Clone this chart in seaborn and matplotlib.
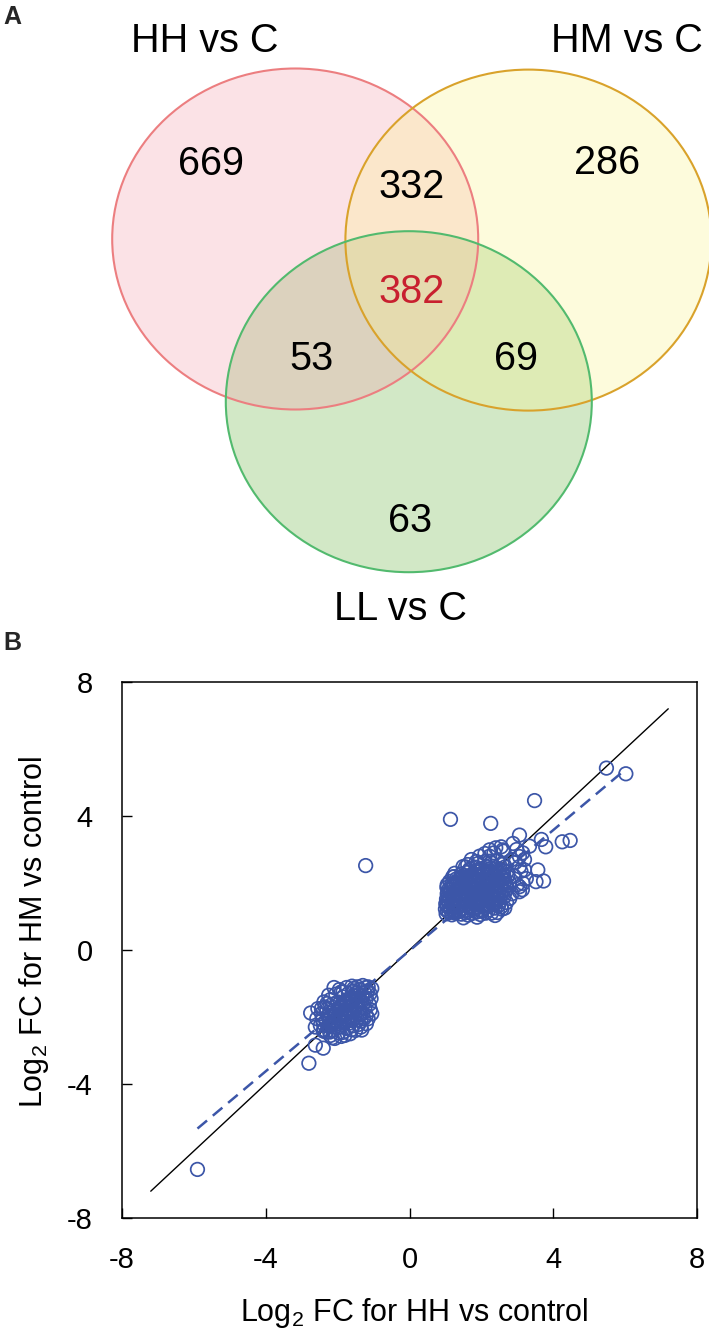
import numpy as np
import pandas as pd
import matplotlib
matplotlib.use("Agg")
import matplotlib.pyplot as plt
import seaborn as sns
from matplotlib.patches import Ellipse

# ---------------- Venn data (panel A) ----------------
set_names = ["HH vs C", "HM vs C", "LL vs C"]
region_names = ["HH only", "HM only", "HH&HM", "HH&HM&LL", "HH&LL", "HM&LL", "LL only"]
region_counts = [669, 286, 332, 382, 53, 69, 63]

# ---------------- Scatter data (panel B) ----------------
# up-regulated genes: log2 FC for HH vs control / HM vs control
hh_up = [1.02, 1.10, 1.18, 1.27, 1.35, 1.44, 1.55, 1.63, 1.74, 1.86, 1.97, 2.12, 2.28,
         1.00, 1.06, 1.15, 1.22, 1.31, 1.40, 1.49, 1.58, 1.66, 1.77, 1.88, 1.99, 2.09, 2.21, 2.38, 2.55,
         1.01, 1.08, 1.16, 1.25, 1.33, 1.42, 1.52, 1.61, 1.70, 1.81, 1.92, 2.03, 2.14, 2.27, 2.41,
         1.03, 1.11, 1.19, 1.28, 1.37, 1.46, 1.55, 1.65, 1.74, 1.84, 1.95, 2.06, 2.18, 2.31, 2.45, 2.62,
         1.05, 1.14, 1.23, 1.32, 1.42, 1.51, 1.60, 1.70, 1.80, 1.91, 2.01, 2.12, 2.24, 2.36, 2.49, 2.66,
         1.10, 1.20, 1.30, 1.39, 1.48, 1.58, 1.68, 1.78, 1.88, 1.98, 2.09, 2.20, 2.32, 2.44, 2.58, 2.72,
         1.05, 1.12, 1.18, 1.29, 1.40, 1.50, 1.61, 1.71, 1.82, 1.93, 2.04, 2.15, 2.27, 2.39, 2.51, 2.63, 2.78,
         1.20, 1.30, 1.42, 1.55, 1.67, 1.79, 1.90, 2.01, 2.12, 2.24, 2.36, 2.48, 2.60, 2.73,
         1.26, 1.45, 1.60, 1.74, 1.87, 1.99, 2.11, 2.23, 2.35, 2.47, 2.59, 2.71,
         1.49, 1.68, 1.85, 2.00, 2.14, 2.27, 2.40, 2.53, 2.66,
         1.62, 1.86, 1.90, 2.10, 2.28, 2.45, 2.62,
         1.06, 1.23, 1.40, 1.60, 1.80, 2.02, 2.20,
         1.04, 1.20, 1.37, 1.54, 1.72, 1.93, 2.15, 2.33, 2.48,
         1.06, 1.22, 1.39, 1.57, 1.77, 1.98, 2.21, 2.36, 2.52,
         1.08, 1.26, 1.44, 1.62, 1.82, 2.03, 2.27, 2.55,
         1.12, 1.34, 1.54, 1.75, 1.95, 2.17, 2.40, 2.62,
         1.24, 1.45, 1.66, 1.87, 2.08, 2.30, 2.53, 2.70,
         1.35, 1.58, 1.80, 2.02, 2.22, 2.44, 2.66,
         1.50, 1.72, 1.94, 2.17, 2.40, 2.62,
         1.65, 1.90, 2.16, 2.42, 2.62,
         1.14, 2.26, 3.48, 5.48, 6.02, 3.06, 3.67, 3.79, 4.25, 4.47,
         3.57, 3.52, 3.73, 2.88, 3.34, 3.06, 3.06, 3.06, 3.06, 3.25,
         2.23, 2.55, 2.60, 2.79, 3.16, 3.20, 3.14, 2.57, 2.38, 1.88,
         1.50, 2.95, 3.15, 2.98, 3.20, 2.85, 3.10, 2.92, 3.00, 2.85,
         2.70, 2.45, 2.65, 1.72, 1.95, 2.10, 2.35, 2.40, 2.23, 2.23,
         2.63, 1.04, 1.24, 1.56]
hm_up = [1.08, 1.12, 1.05, 1.10, 1.14, 1.07, 1.11, 1.04, 1.09, 1.13, 1.06, 1.10, 1.10,
         1.22, 1.30, 1.19, 1.27, 1.21, 1.31, 1.24, 1.18, 1.28, 1.23, 1.30, 1.20, 1.26, 1.32, 1.25, 1.29,
         1.38, 1.45, 1.36, 1.43, 1.40, 1.35, 1.46, 1.39, 1.44, 1.37, 1.42, 1.47, 1.38, 1.44, 1.40,
         1.52, 1.58, 1.50, 1.56, 1.61, 1.53, 1.59, 1.51, 1.57, 1.62, 1.54, 1.60, 1.55, 1.58, 1.52, 1.57,
         1.68, 1.72, 1.66, 1.74, 1.69, 1.75, 1.67, 1.73, 1.70, 1.66, 1.76, 1.71, 1.68, 1.74, 1.70, 1.72,
         1.83, 1.88, 1.81, 1.86, 1.90, 1.82, 1.87, 1.84, 1.91, 1.85, 1.80, 1.89, 1.86, 1.82, 1.88, 1.84,
         1.95, 2.05, 1.97, 2.02, 1.99, 2.05, 1.96, 2.03, 2.00, 1.95, 2.04, 1.98, 2.02, 1.97, 2.05, 1.99, 2.01,
         2.18, 2.12, 2.17, 2.11, 2.19, 2.14, 2.20, 2.10, 2.16, 2.13, 2.18, 2.12, 2.15, 2.19,
         2.29, 2.27, 2.31, 2.26, 2.33, 2.28, 2.34, 2.30, 2.25, 2.32, 2.29, 2.33,
         2.49, 2.42, 2.47, 2.41, 2.49, 2.44, 2.46, 2.40, 2.48,
         2.55, 2.64, 2.58, 2.64, 2.60, 2.67, 2.57,
         1.16, 1.15, 1.17, 1.14, 1.18, 1.16, 1.19,
         1.33, 1.34, 1.32, 1.35, 1.33, 1.34, 1.31, 1.35, 1.33,
         1.48, 1.49, 1.47, 1.48, 1.50, 1.49, 1.47, 1.50, 1.46,
         1.64, 1.63, 1.65, 1.62, 1.64, 1.66, 1.63, 1.64,
         1.78, 1.79, 1.77, 1.79, 1.78, 1.80, 1.77, 1.79,
         1.93, 1.92, 1.94, 1.92, 1.93, 1.94, 1.92, 1.93,
         2.07, 2.08, 2.06, 2.08, 2.07, 2.09, 2.06,
         2.22, 2.23, 2.21, 2.23, 2.22, 2.24,
         2.37, 2.38, 2.36, 2.38, 2.37,
         3.90, 3.78, 4.46, 5.43, 5.26, 3.43, 3.30, 3.08, 3.23, 3.27,
         2.39, 2.04, 2.06, 3.18, 3.10, 2.79, 2.49, 1.89, 1.74, 2.13,
         2.99, 3.08, 2.99, 1.54, 1.99, 2.39, 1.80, 1.22, 1.03, 0.98,
         0.96, 2.62, 2.90, 3.00, 2.70, 2.70, 2.35, 2.20, 1.95, 1.68,
         1.42, 1.12, 1.25, 2.70, 2.80, 2.88, 2.90, 3.05, 2.80, 2.65,
         2.95, 1.87, 2.19, 2.48]

# down-regulated genes
hh_down = [-1.05, -1.10, -1.07, -1.12, -1.09,
           -1.22, -1.25, -1.20, -1.28, -1.24, -1.30, -1.27,
           -1.38, -1.42, -1.36, -1.44, -1.40, -1.37, -1.45, -1.41,
           -1.55, -1.52, -1.58, -1.50, -1.56, -1.53, -1.60, -1.57,
           -1.70, -1.66, -1.73, -1.68, -1.75, -1.71, -1.67, -1.74,
           -1.85, -1.82, -1.88, -1.80, -1.87, -1.83, -1.90, -1.86,
           -2.00, -1.96, -2.03, -1.98, -2.05, -2.01, -1.97,
           -2.15, -2.12, -2.18, -2.10, -2.17, -2.13, -2.20,
           -2.30, -2.27, -2.33, -2.25, -2.32,
           -2.45, -2.42, -2.48, -2.40,
           -2.58, -2.62,
           -2.10, -1.95, -2.25, -2.05, -1.90, -2.38, -2.20, -2.35, -2.55,
           -1.20, -1.35, -1.50, -1.65, -1.15, -1.80,
           -1.75, -1.60, -1.45, -1.30, -1.15,
           -1.17, -1.32, -1.48, -1.63, -1.78, -1.93, -2.08, -2.24, -2.38,
           -1.33, -1.48, -1.64, -1.78, -1.93, -2.08, -2.22,
           -1.47, -1.62, -1.77, -1.93, -2.08, -2.24, -2.40,
           -1.20, -1.35, -1.62, -1.90, -2.15, -2.45, -1.55, -1.85, -2.30,
           -2.75, -1.05, -1.33, -2.62, -2.40, -2.08, -2.80, -5.90, -1.22]
hm_down = [-1.15, -1.30, -1.45, -1.62, -1.78,
           -1.12, -1.28, -1.44, -1.58, -1.73, -1.90, -2.05,
           -1.18, -1.33, -1.49, -1.62, -1.78, -1.93, -2.08, -2.22,
           -1.22, -1.38, -1.52, -1.66, -1.80, -1.95, -2.10, -2.26,
           -1.30, -1.46, -1.60, -1.75, -1.88, -2.03, -2.18, -2.34,
           -1.40, -1.56, -1.70, -1.85, -2.00, -2.15, -2.30, -2.46,
           -1.55, -1.72, -1.86, -2.02, -2.16, -2.31, -2.47,
           -1.62, -1.80, -1.95, -2.10, -2.25, -2.40, -2.55,
           -1.78, -1.95, -2.12, -2.28, -2.45,
           -1.90, -2.08, -2.25, -2.42,
           -2.05, -2.30,
           -1.12, -1.18, -1.35, -1.32, -1.25, -1.55, -1.48, -1.70, -1.75,
           -2.20, -2.30, -2.40, -2.50, -2.05, -2.55,
           -1.12, -1.08, -1.10, -1.06, -1.10,
           -1.22, -1.36, -1.50, -1.65, -1.80, -1.95, -2.10, -2.25, -2.38,
           -1.55, -1.70, -1.85, -2.00, -2.15, -2.30, -2.45,
           -1.28, -1.42, -1.58, -1.73, -1.90, -2.05, -2.20,
           -1.95, -2.12, -2.38, -2.58, -2.62, -1.75, -1.15, -1.25, -1.60,
           -1.88, -1.90, -2.39, -2.84, -2.93, -2.64, -3.38, -6.55, 2.52]

# fitted regression (dashed) and identity (solid) lines
fit_slope = 0.90
fit_intercept = -0.02
identity_range = [-7.2, 7.2]

axis_ticks = [-8, -4, 0, 4, 8]

# ---------------- styling ----------------
sns.set_theme(style="white")
plt.rcParams["font.family"] = ["Liberation Sans", "DejaVu Sans"]
plt.rcParams["mathtext.default"] = "regular"

W, H = 709, 1330
fig = plt.figure(figsize=(W / 100, H / 100), dpi=100)
fig.patch.set_facecolor("white")

# ---------------- Panel A: Venn ----------------
topH = 680
axv = fig.add_axes([0, 1 - topH / H, 1, topH / H])
axv.set_xlim(0, W)
axv.set_ylim(topH, 0)
axv.axis("off")

circ_centers = [(295.2, 239.0), (528.4, 240.1), (408.8, 401.7)]
circ_w, circ_h = 366, 341
fill_cols = ["#F5A0AD", "#FBF38E", "#6DB544"]
edge_cols = ["#EC7E80", "#D9A22B", "#52BA6E"]
draw_order = [2, 0, 1]
for i in draw_order:
    axv.add_patch(Ellipse(circ_centers[i], circ_w, circ_h, facecolor=fill_cols[i],
                          edgecolor="none", alpha=0.3, zorder=1))
for i in range(3):
    axv.add_patch(Ellipse(circ_centers[i], circ_w, circ_h, facecolor="none",
                          edgecolor=edge_cols[i], lw=1.5, zorder=2))

label_pos = [(204.5, 40.5), (627.0, 40.5), (401.0, 609.0)]
for name, (x, y) in zip(set_names, label_pos):
    axv.text(x, y, name, ha="center", va="center", fontsize=28.5, color="black")

count_pos = [(211.4, 164.0), (606.8, 163.0), (411.5, 187.0), (411.5, 292.0),
             (311.0, 359.0), (515.5, 359.0), (410.5, 521.0)]
count_cols = ["black", "black", "black", "#C8202F", "black", "black", "black"]
for c, (x, y), col in zip(region_counts, count_pos, count_cols):
    axv.text(x, y, str(c), ha="center", va="center", fontsize=28.5, color=col)

fig.text(12 / W, 1 - 17 / H, "A", fontsize=18, fontweight="bold", ha="center", va="center")
fig.text(12 / W, 1 - 643 / H, "B", fontsize=18, fontweight="bold", ha="center", va="center")

# ---------------- Panel B: scatter ----------------
left, right, top, bottom = 122, 697, 682, 1218
ax = fig.add_axes([left / W, 1 - bottom / H, (right - left) / W, (bottom - top) / H])

df = pd.DataFrame({"hh": hh_up + hh_down, "hm": hm_up + hm_down})
blue = "#3C56A8"

ax.plot(identity_range, identity_range, color="black", lw=1.0, zorder=2)
xfit = np.array([df["hh"].min(), df["hh"].max()])
ax.plot(xfit, fit_slope * xfit + fit_intercept, color=blue, lw=1.8,
        dashes=(5, 3), zorder=3)

sns.scatterplot(data=df, x="hh", y="hm", ax=ax, color=blue, marker="o", s=95,
                facecolors="none", edgecolor=blue, linewidth=1.25, zorder=4)

ax.set_xlim(-8, 8)
ax.set_ylim(-8, 8)
ax.set_xticks(axis_ticks)
ax.set_yticks(axis_ticks)
ax.set_xticklabels([str(t) for t in axis_ticks])
ax.set_yticklabels([str(t) for t in axis_ticks])
ax.tick_params(axis="both", direction="in", length=7, width=1.0, color="black",
               labelsize=21, labelcolor="black")
ax.tick_params(axis="x", pad=20, bottom=True)
ax.tick_params(axis="y", pad=21, left=True)
for sp in ax.spines.values():
    sp.set_visible(True)
    sp.set_color("black")
    sp.set_linewidth(1.1)

ax.set_xlabel("Log$_2$ FC for HH vs control", fontsize=22, color="black", va="center")
ax.set_ylabel("Log$_2$ FC for HM vs control", fontsize=22, color="black", va="center")
ax.xaxis.set_label_coords(0.509, (bottom - 1313) / (bottom - top))
ax.yaxis.set_label_coords((34 - left) / (right - left), 0.533)

fig.savefig("out.png", dpi=100, facecolor="white")
